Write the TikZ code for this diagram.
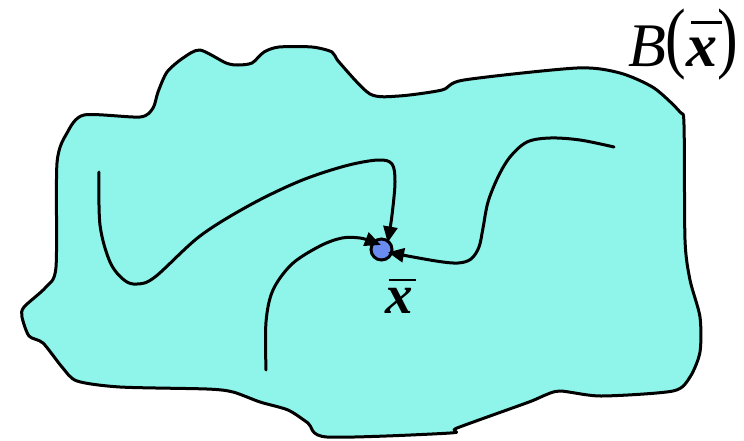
\documentclass[tikz,border=0pt]{standalone}
\usepackage{fontspec}
\setmainfont{Liberation Serif}
\usetikzlibrary{arrows.meta}
\definecolor{blobfill}{RGB}{143,244,234}
\definecolor{ptfill}{RGB}{106,140,240}
\newcommand\barx[1]{\leavevmode\rlap{\hspace{0.07em}\rule[#1]{0.5em}{0.04em}}\textbf{\textit{x}}}
\tikzset{
  blob/.style={draw=black, line width=3pt, fill=blobfill, line join=round},
  trail/.style={draw=black, line width=3pt, line cap=round},
  trailarrow/.style={trail, -{Triangle[length=16pt,width=14pt]}},
  pt/.style={circle, draw=black, line width=3pt, fill=ptfill, minimum size=21pt, inner sep=0pt},
  lbl/.style={inner sep=0pt, outer sep=0pt}
}
\begin{document}
\begin{tikzpicture}[x=1pt,y=-1pt]
\useasboundingbox (0,0) rectangle (744,440);
% region
\draw[blob] plot[smooth cycle, tension=0.45] coordinates {
(84,115) (140,117) (153,108) (158,92) (167,72) (183,58) (200,50) (226,63) (238,65) (252,63) (264,52) (279,47) (312,47) (332,52) (339,62) (370,94) (399,96) (442,90) (464,80) (577,68) (620,73) (654,88) (680,112) (684,125) (685,240) (690,280) (700,317) (700,352) (690,377) (673,391) (601,396) (560,391) (543,396) (529,402) (457,428) (450,433) (327,437) (308,423) (288,410) (260,402) (233,392) (207,389) (120,387) (77,381) (62,367) (43,343) (29,336) (22,317) (24,307) (46,287) (56,267) (57,163) (67,133)};
% point
\node[pt] (p) at (381.5,249.5) {};
% free ends
\coordinate (s1) at (99,172);
\coordinate (s2) at (266,370);
\coordinate (s3) at (614,147);
% trails
\draw[trailarrow, shorten >=-3pt] plot[smooth, tension=0.55] coordinates {
(s1) (100,225) (110,262) (124,280) (137,284) (155,277) (200,236) (250,205) (300,181) (345,166) (378,160) (392,164) (395,182) (392,215) (p.56)};
\draw[trailarrow, shorten >=-9pt] plot[smooth, tension=0.55] coordinates {
(s2) (266,322) (273,290) (292,264) (320,246) (342,238) (360,238) (p.139)};
\draw[trailarrow, shorten >=-5pt] plot[smooth, tension=0.55] coordinates {
(s3) (580,140) (550,138) (527,142) (510,157) (498,177) (488,202) (483,228) (479,247) (471,259) (458,263) (436,261) (p.-18)};
% labels
\node[lbl, anchor=base west] (xb) at (385,313) {\fontsize{55}{60}\selectfont\barx{0.58em}};
\node[lbl, anchor=base west] (B) at (628,66) {\fontsize{62}{66}\selectfont\textit{B}\raisebox{3pt}{\scalebox{1}[1.27]{(}}\barx{0.68em}\raisebox{3pt}{\scalebox{1}[1.27]{)}}};
\end{tikzpicture}
\end{document}
